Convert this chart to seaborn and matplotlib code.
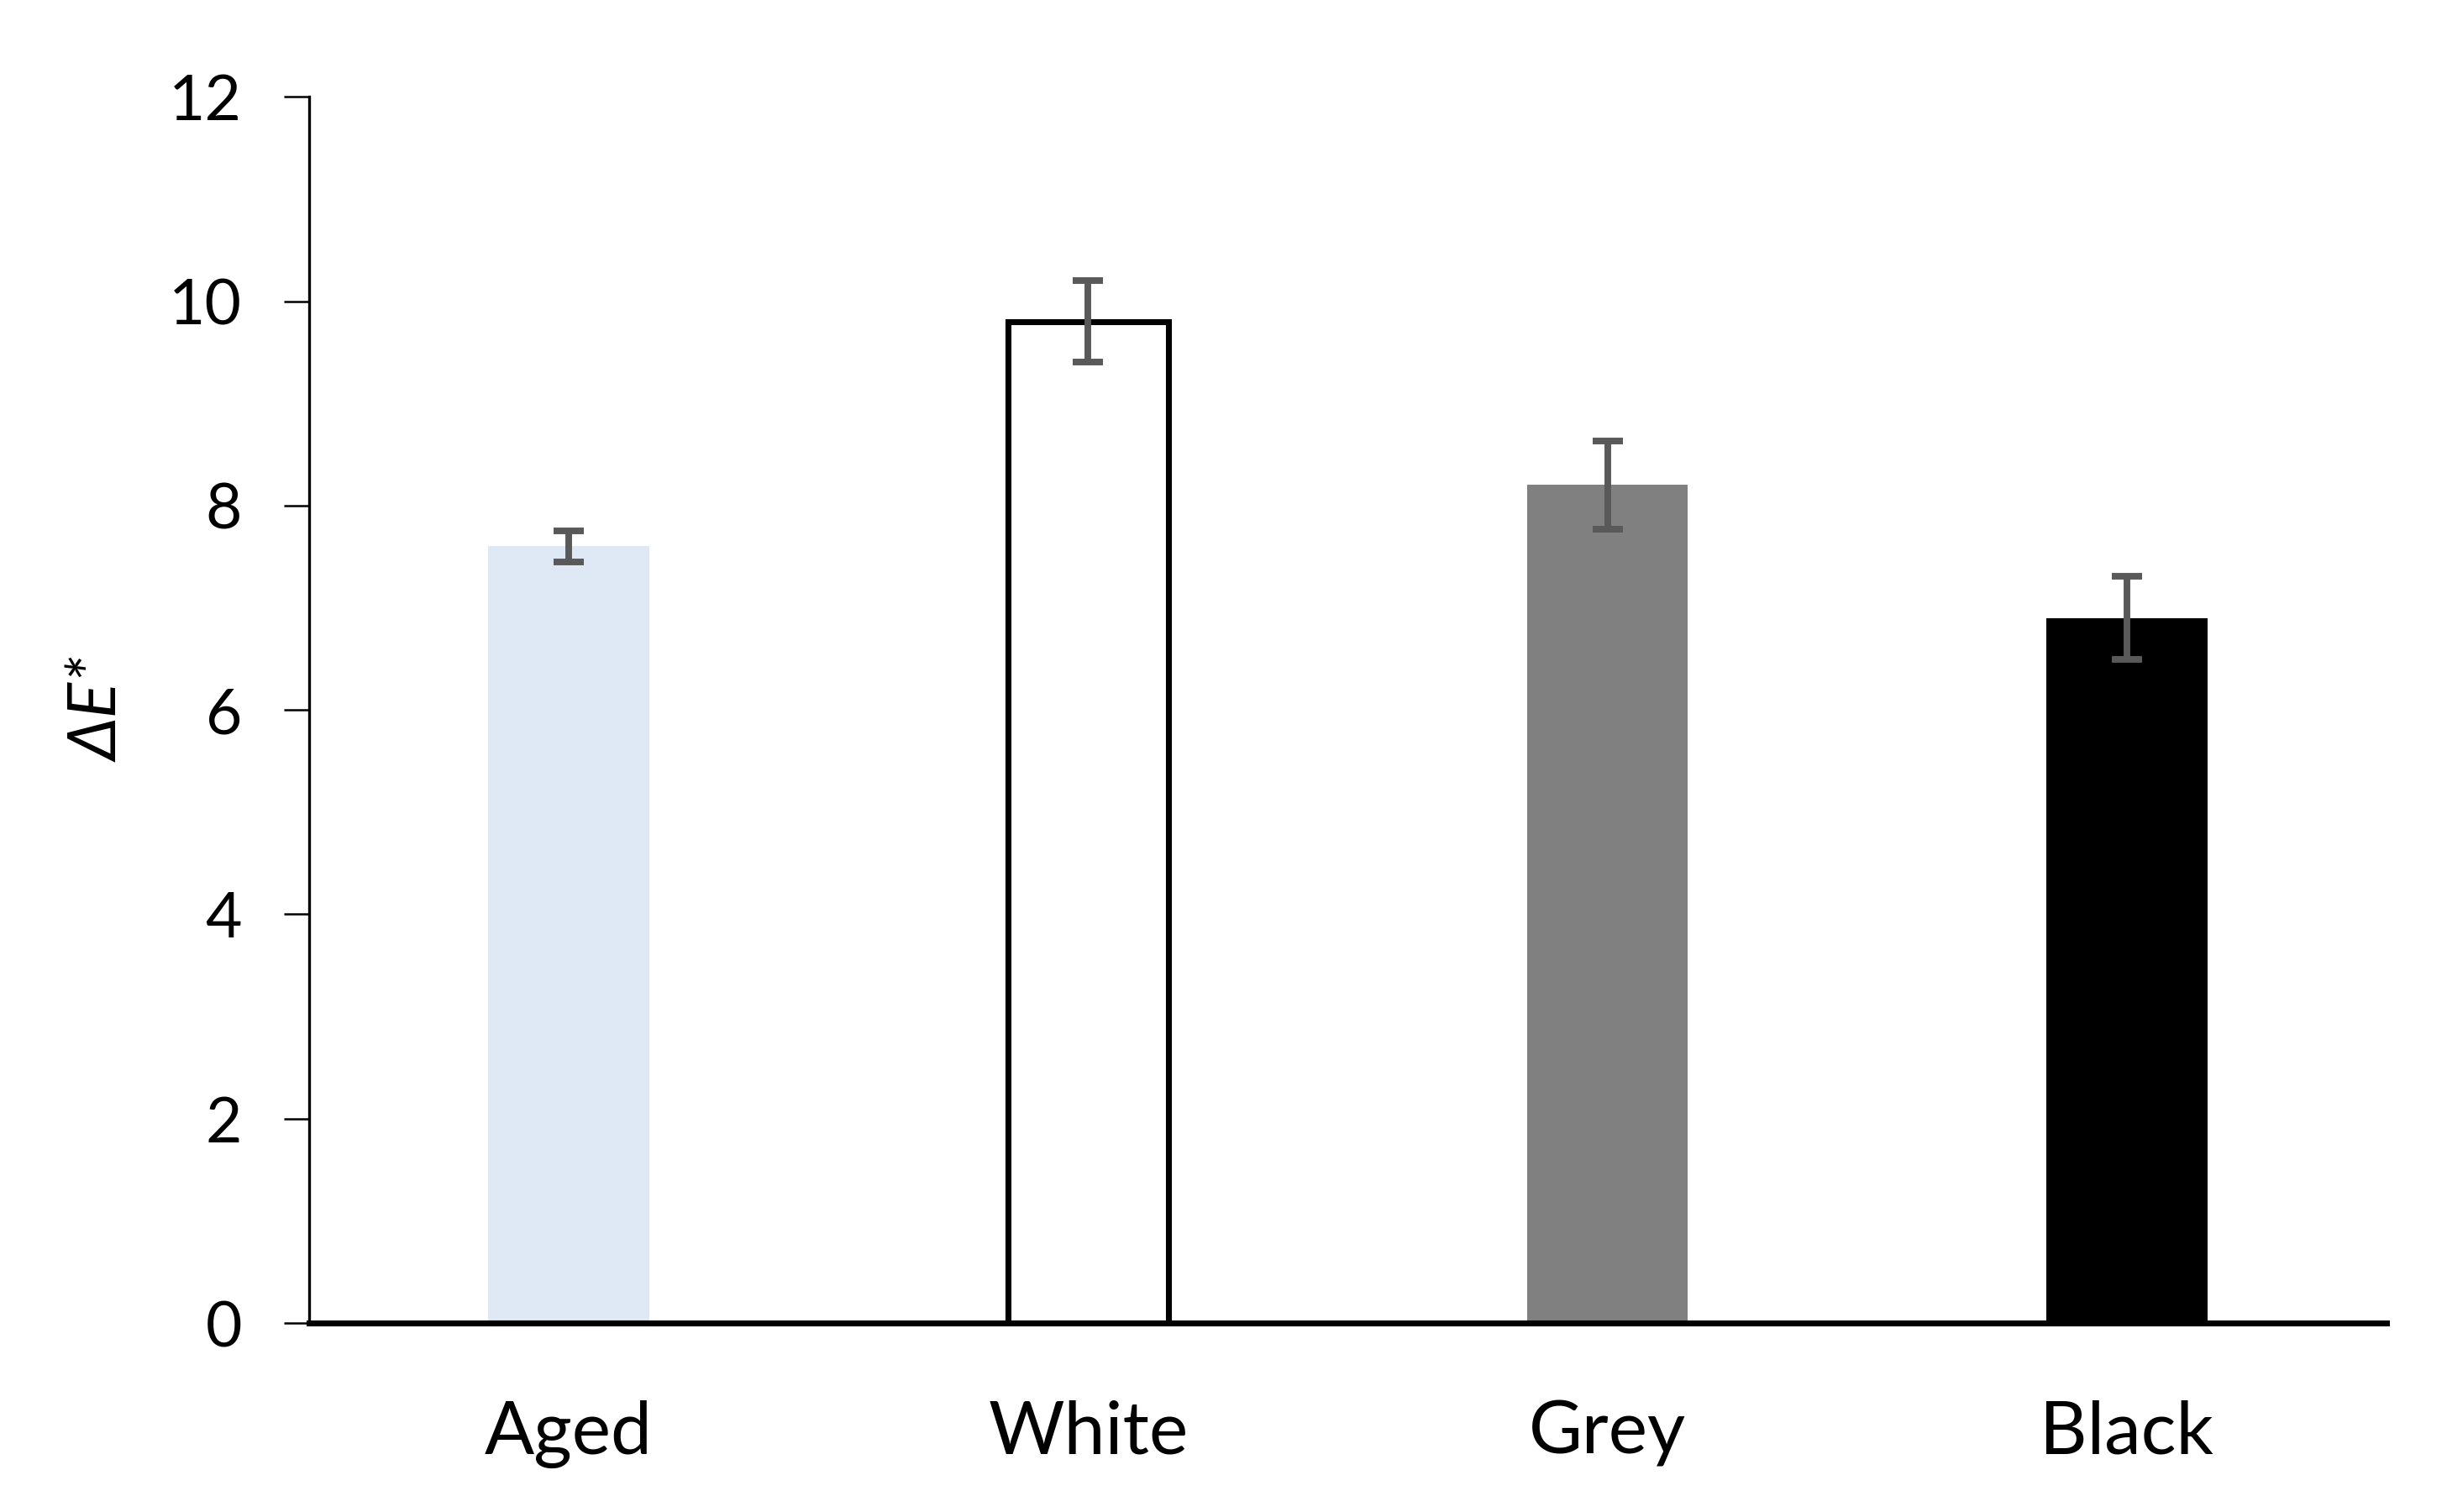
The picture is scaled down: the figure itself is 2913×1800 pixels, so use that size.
"""
Colour difference (dE*) per sample, bar chart with error bars.
"""

import matplotlib
matplotlib.use("Agg")
import matplotlib.pyplot as plt
import pandas as pd
import seaborn as sns

# Data
samples = ["Aged", "White", "Grey", "Black"]
delta_e = [7.6, 9.8, 8.2, 6.9]
delta_e_err = [0.15, 0.40, 0.43, 0.41]
bar_colors = ["#DEE9F5", "#FFFFFF", "#808080", "#000000"]
y_ticks = [0, 2, 4, 6, 8, 10, 12]

sns.set_style("ticks")
plt.rcParams["font.family"] = ["Lato", "DejaVu Sans"]
plt.rcParams["text.color"] = "black"
plt.rcParams["axes.labelcolor"] = "black"
plt.rcParams["xtick.color"] = "black"
plt.rcParams["ytick.color"] = "black"
plt.rcParams["axes.edgecolor"] = "black"

df = pd.DataFrame({"sample": samples, "dE": delta_e, "err": delta_e_err})

fig = plt.figure(figsize=(2913 / 300, 1800 / 300), dpi=300)
ax = fig.add_axes([0.1263, 0.125, 0.849, 0.811])

sns.barplot(
    data=df,
    x="sample",
    y="dE",
    hue="sample",
    palette=dict(zip(samples, bar_colors)),
    order=samples,
    hue_order=samples,
    width=0.31,
    errorbar=None,
    legend=False,
    saturation=1,
    linewidth=0,
    ax=ax,
)

# outline the white bar
for patch, name in zip(ax.patches, samples):
    if name == "White":
        patch.set_edgecolor("black")
        patch.set_linewidth(1.7)

ax.errorbar(
    x=range(len(samples)),
    y=df["dE"],
    yerr=df["err"],
    fmt="none",
    ecolor="#595959",
    elinewidth=1.9,
    capsize=4.3,
    capthick=1.9,
    zorder=5,
)

ax.set_xlim(-0.5, len(samples) - 0.5)
ax.set_ylim(0, 12)
ax.set_yticks(y_ticks)
ax.set_xlabel("")
ax.set_ylabel("ΔE*", fontsize=19, fontstyle="italic", labelpad=11)

sns.despine(ax=ax)
ax.spines["left"].set_linewidth(0.8)
ax.spines["bottom"].set_linewidth(1.7)
ax.tick_params(axis="y", direction="out", length=7.2, width=0.6,
               labelsize=18, pad=12)
ax.tick_params(axis="x", length=0, labelsize=21, pad=22)

fig.savefig("out.png", dpi=300)
plt.close(fig)
